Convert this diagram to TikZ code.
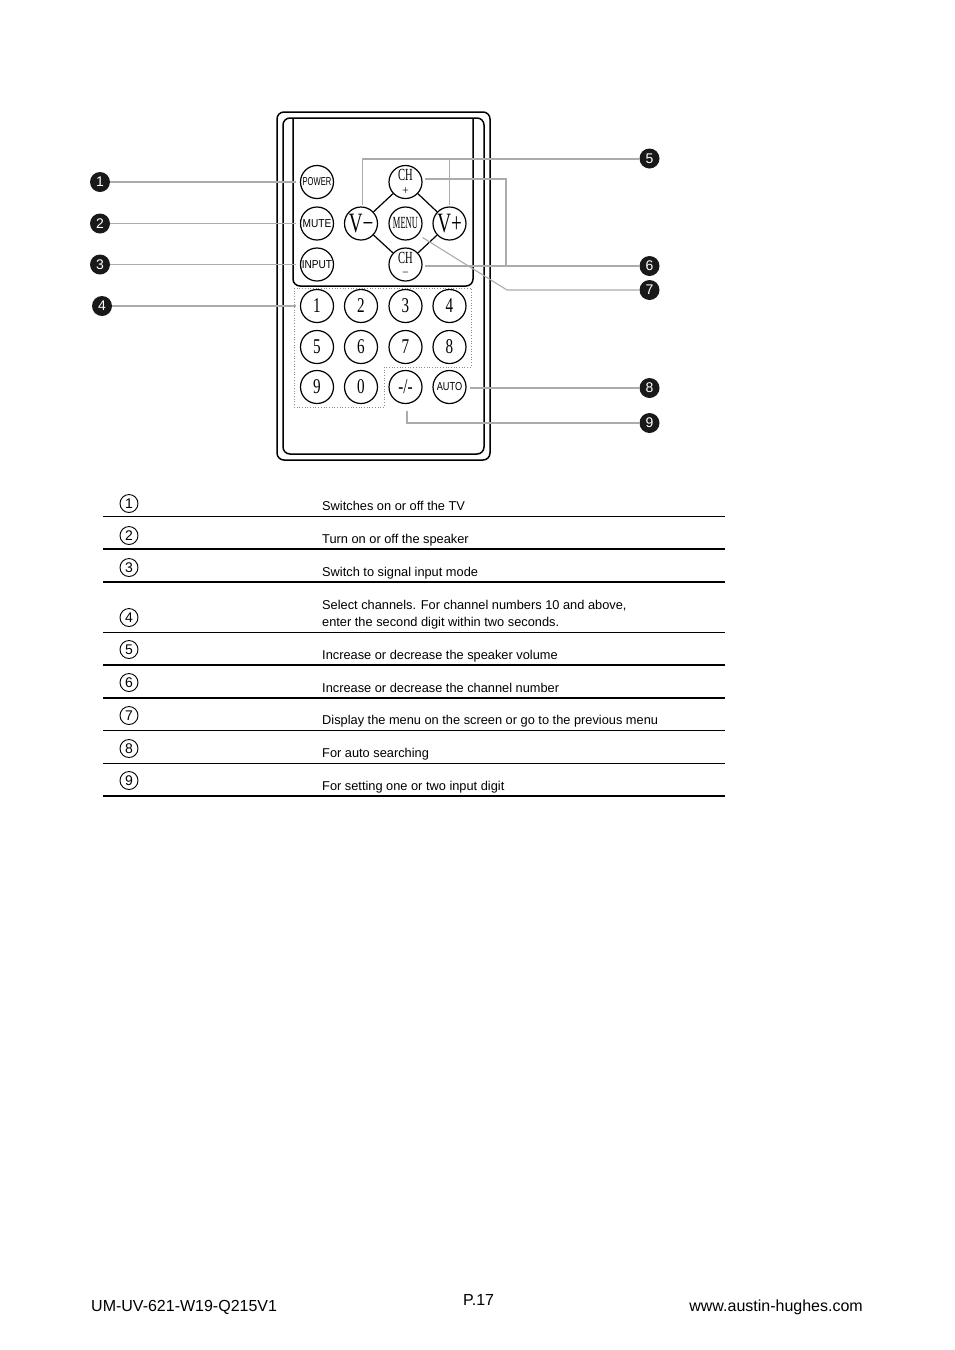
\documentclass[tikz,border=0pt]{standalone}
\usepackage{fontspec}
\setmainfont{Liberation Sans}
\newfontfamily\btnfont{Liberation Serif}
\usetikzlibrary{calc}
\newcommand{\tallnum}[1]{\scalebox{0.72}[1]{\btnfont\fontsize{21}{21}\selectfont #1}}
\newcommand{\tallmark}[1]{\scalebox{0.68}[1]{\btnfont\fontsize{28}{28}\selectfont #1}}
\newcommand{\tallword}[1]{\scalebox{0.5}[1]{\btnfont\fontsize{17}{17}\selectfont #1}}
\newcommand{\tallch}{\scalebox{0.62}[1]{\btnfont\fontsize{17}{17}\selectfont CH}}
\newcommand{\squeezed}[2]{\scalebox{#1}[1]{\fontsize{11.5}{11.5}\selectfont #2}}

\begin{document}
\begin{tikzpicture}[
    x=1pt, y=-1pt,
    every node/.style={inner sep=0pt},
    body/.style={draw=black, line width=1.5pt, rounded corners=7pt},
    btn/.style={circle, draw=black, line width=1.2pt, minimum size=33pt, align=center},
    link/.style={draw=black, line width=1.2pt},
    leader/.style={draw=black!33, line width=1.1pt},
    callout/.style={circle, fill=black!90, text=white, minimum size=20pt, font=\fontsize{14}{14}\selectfont},
    badge/.style={circle, draw=black, line width=0.9pt, minimum size=18pt, font=\fontsize{14}{14}\selectfont},
    desc/.style={anchor=base west, font=\fontsize{12.8}{12.8}\selectfont},
    foot/.style={font=\fontsize{16}{16}\selectfont},
    rowthin/.style={draw=black, line width=0.9pt},
    rowthick/.style={draw=black, line width=1.5pt},
]
\useasboundingbox (0,0) rectangle (954,1350);

% Remote casing
\draw[body] (277,112) rectangle (490,460);
\draw[body] (283,118) rectangle (484,454);
\draw[body] (293,118) -- (293,286) -- (473,286) -- (473,118);
\draw[black!45, dotted, line width=0.7pt] (294,288) -- (471,288) -- (471,367) -- (384,367) -- (384,407) -- (294,407) -- cycle;

% Top buttons
\node[btn] (power) at (317,182) {\squeezed{0.66}{POWER}};
\node[btn] (mute) at (317,223.5) {\squeezed{0.88}{MUTE}};
\node[btn] (input) at (317,264.5) {\squeezed{0.88}{INPUT}};
\node[btn] (chup) at (405.5,182) {\tallch\\[1.5pt]{\btnfont\fontsize{12}{12}\selectfont +}};
\node[btn] (vdown) at (361,223.5) {\tallmark{V−}};
\node[btn] (menu) at (405.5,223.5) {\tallword{MENU}};
\node[btn] (vup) at (449.5,223.5) {\tallmark{V+}};
\node[btn] (chdown) at (405.5,264.5) {\tallch\\[1.5pt]{\btnfont\fontsize{12}{12}\selectfont −}};

% Number buttons
\node[btn] (one) at (317,306) {\tallnum{1}};
\node[btn] (two) at (361,306) {\tallnum{2}};
\node[btn] (three) at (405.5,306) {\tallnum{3}};
\node[btn] (four) at (449.5,306) {\tallnum{4}};
\node[btn] (five) at (317,347) {\tallnum{5}};
\node[btn] (six) at (361,347) {\tallnum{6}};
\node[btn] (seven) at (405.5,347) {\tallnum{7}};
\node[btn] (eight) at (449.5,347) {\tallnum{8}};
\node[btn] (nine) at (317,387) {\tallnum{9}};
\node[btn] (zero) at (361,387) {\tallnum{0}};
\node[btn] (digit) at (405.5,387) {\tallnum{-/-}};
\node[btn] (auto) at (449.5,387) {\squeezed{0.8}{AUTO}};

% Diamond around menu
\draw[link] (chup) -- (vdown);
\draw[link] (chup) -- (vup);
\draw[link] (chdown) -- (vdown);
\draw[link] (chdown) -- (vup);

% Callouts
\node[callout] (callA) at (100,182) {1};
\node[callout] (callB) at (100,223.5) {2};
\node[callout] (callC) at (100,264.5) {3};
\node[callout] (callD) at (102,306) {4};
\node[callout] (callE) at (649.5,158.5) {5};
\node[callout] (callF) at (649.5,266) {6};
\node[callout] (callG) at (649.5,290) {7};
\node[callout] (callH) at (649.5,388) {8};
\node[callout] (callI) at (649.5,423) {9};

% Leader lines
\draw[leader] (callA.east) -- ([xshift=-4pt]power.west);
\draw[leader] (callB.east) -- ([xshift=-4pt]mute.west);
\draw[leader] (callC.east) -- ([xshift=-4pt]input.west);
\draw[leader] (callD.east) -- ([xshift=-4pt]one.west);
\coordinate (bendE) at (362.5,159);
\draw[leader, shorten >=1pt] (callE.west |- bendE) -- (bendE) -- (bendE |- vdown.north);
\draw[leader, shorten >=1pt] (vup.north |- bendE) -- (vup.north);
\draw[leader, shorten >=2pt] (callF.west) -- (chdown.east |- callF.west);
\coordinate (bendF) at (506,179);
\draw[leader, shorten >=2pt] (bendF |- callF.west) -- (bendF) -- (chup.east |- bendF);
\coordinate (bendG) at (507,290);
\draw[leader] (callG.west) -- (bendG) -- ($(menu)+(17,14)$);
\draw[leader, shorten >=3pt] (callH.west) -- (auto.east |- callH.west);
\coordinate (bendI) at (407,423);
\draw[leader, shorten >=7pt] (callI.west) -- (bendI) -- (bendI |- digit.south);

% Table rows
\coordinate (tableL) at (103,0);
\coordinate (tableR) at (725,0);
\draw[rowthin] (tableL |- 0,516.5) -- (tableR |- 0,516.5);
\draw[rowthick] (tableL |- 0,549) -- (tableR |- 0,549);
\draw[rowthick] (tableL |- 0,582) -- (tableR |- 0,582);
\draw[rowthin] (tableL |- 0,632.5) -- (tableR |- 0,632.5);
\draw[rowthick] (tableL |- 0,665) -- (tableR |- 0,665);
\draw[rowthick] (tableL |- 0,698) -- (tableR |- 0,698);
\draw[rowthin] (tableL |- 0,730.5) -- (tableR |- 0,730.5);
\draw[rowthin] (tableL |- 0,763.5) -- (tableR |- 0,763.5);
\draw[rowthick] (tableL |- 0,796) -- (tableR |- 0,796);

\node[badge] (rowA) at (129,503.5) {1};
\node[badge] (rowB) at (129,535.5) {2};
\node[badge] (rowC) at (129,567.5) {3};
\node[badge] (rowD) at (129,617.5) {4};
\node[badge] (rowE) at (129,649.5) {5};
\node[badge] (rowF) at (129,682.5) {6};
\node[badge] (rowG) at (129,715.5) {7};
\node[badge] (rowH) at (129,748.5) {8};
\node[badge] (rowI) at (129,780.5) {9};

\node[desc] (descA) at (322,510) {Switches on or off the TV};
\node[desc] (descB) at (322,543) {Turn on or off the speaker};
\node[desc] (descC) at (322,576) {Switch to signal input mode};
\node[desc] (descD) at (322,609) {Select channels. For channel numbers 10 and above,};
\node[desc] (descDb) at (322,626) {enter the second digit within two seconds.};
\node[desc] (descE) at (322,659) {Increase or decrease the speaker volume};
\node[desc] (descF) at (322,692) {Increase or decrease the channel number};
\node[desc] (descG) at (322,724) {Display the menu on the screen or go to the previous menu};
\node[desc] (descH) at (322,757) {For auto searching};
\node[desc] (descI) at (322,790) {For setting one or two input digit};

% Footer
\node[foot, anchor=base west] (model) at (91,1311) {UM-UV-621-W19-Q215V1};
\node[foot, anchor=base west] (page) at (463,1305) {P.17};
\node[foot, anchor=base east] (site) at (863,1311) {www.austin-hughes.com};

\end{tikzpicture}
\end{document}
